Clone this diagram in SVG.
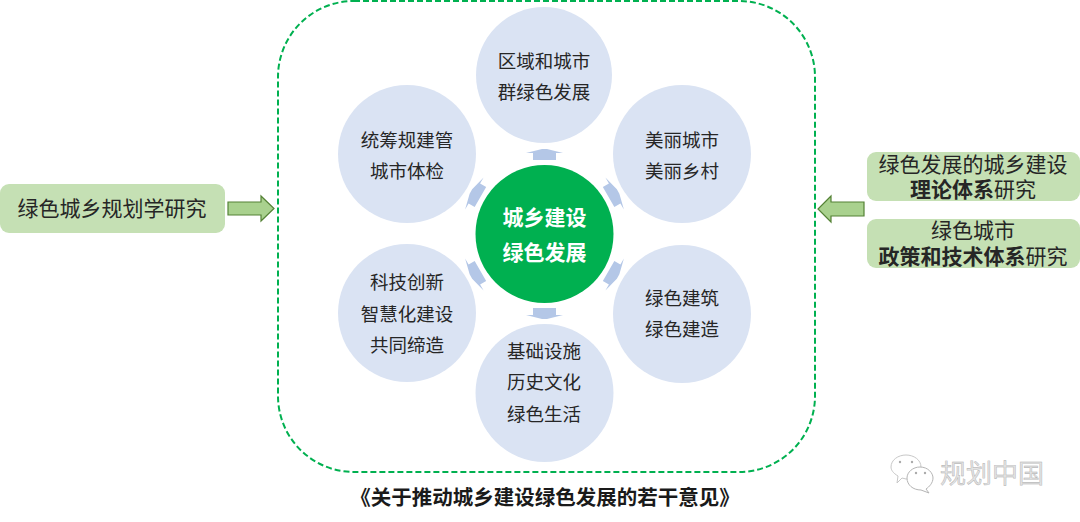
<svg xmlns="http://www.w3.org/2000/svg" width="1080" height="522" viewBox="0 0 1080 522">
<style>
text{font-family:"Liberation Sans","Noto Sans CJK SC",sans-serif;text-anchor:middle;fill:#262626}
.p circle{fill:#dae3f3}
.p text{font-size:18.5px}
.box{fill:#c5e0b4}
.b{font-size:21px}
.s{font-weight:bold}
.arr{fill:#a9d18e;stroke:#548235;stroke-width:1.2}
.blue{fill:#b4c7e7}
</style>
<defs><path id="ba" d="M533 160V153H526L542 149H547L563 153H556V160Z"/></defs>
<rect width="1080" height="522" fill="#fff"/>
<rect x="278" y="1" width="537" height="471" rx="76" fill="none" stroke="#00b050" stroke-width="2" stroke-dasharray="6 3"/>
<g id="connectors">
<use href="#ba" class="blue"/>
<use href="#ba" class="blue" transform="rotate(60 544.500 234)"/>
<use href="#ba" class="blue" transform="rotate(120 544.500 234)"/>
<use href="#ba" class="blue" transform="rotate(180 544.500 234)"/>
<use href="#ba" class="blue" transform="rotate(-120 544.500 234)"/>
<use href="#ba" class="blue" transform="rotate(-60 544.500 234)"/>
<path class="arr" d="M228 202H261V196L274 208.500L261 221V215H228Z"/>
<path class="arr" d="M864 202H831V196L818 209L831 222V216H864Z"/>
</g>
<g id="n-top" class="p"><circle cx="544" cy="75" r="68"/><text x="544" y="68">区域和城市</text><text x="544" y="99">群绿色发展</text></g>
<g id="n-ul" class="p"><circle cx="407" cy="154" r="69"/><text x="407" y="147">统筹规建管</text><text x="407" y="178">城市体检</text></g>
<g id="n-ur" class="p"><circle cx="682" cy="154" r="69"/><text x="682" y="147">美丽城市</text><text x="682" y="178">美丽乡村</text></g>
<g id="n-ll" class="p"><circle cx="407" cy="313" r="69"/><text x="407" y="289">科技创新</text><text x="407" y="321">智慧化建设</text><text x="407" y="352">共同缔造</text></g>
<g id="n-lr" class="p"><circle cx="682" cy="314" r="69"/><text x="682" y="305">绿色建筑</text><text x="682" y="336">绿色建造</text></g>
<g id="n-bottom" class="p"><circle cx="544.500" cy="393" r="69"/><text x="544" y="358">基础设施</text><text x="544" y="389">历史文化</text><text x="544" y="421">绿色生活</text></g>
<g id="n-center"><circle cx="544.500" cy="234" r="69" fill="#00b050"/><text x="544.500" y="225" font-size="21" font-weight="bold" style="fill:#fff">城乡建设</text><text x="544.500" y="260" font-size="21" font-weight="bold" style="fill:#fff">绿色发展</text></g>
<g id="n-left"><rect x="0" y="184" width="225" height="49" rx="9" class="box"/><text x="112" y="216" class="b">绿色城乡规划学研究</text></g>
<g id="n-r1"><rect x="867" y="152" width="213" height="49" rx="9" class="box"/><text x="973" y="172" class="b">绿色发展的城乡建设</text><text x="973" y="197" class="b"><tspan class="s">理论体系</tspan>研究</text></g>
<g id="n-r2"><rect x="867" y="219" width="213" height="49" rx="9" class="box"/><text x="973" y="238" class="b">绿色城市</text><text x="973" y="264" class="b"><tspan class="s">政策和技术体系</tspan>研究</text></g>
<text x="545" y="505" font-size="20.500" font-weight="bold" style="fill:#1a1a1a">《关于推动城乡建设绿色发展的若干意见》</text>
<g id="watermark">
<path d="M906 455C914 455 921 460 921 467C921 474 914 479 906 479L902 478L897 483L898 476C893 473 891 470 891 467C891 460 898 455 906 455Z" fill="#fff" stroke="#c8c8c8"/>
<path d="M920 467C928 467 933 473 933 478C933 483 929 487 926 489L929 493L921 490C913 490 907 485 907 478C907 472 913 467 920 467Z" fill="#fff" stroke="#b5b5b5"/>
<circle cx="900" cy="462" r="1.200" fill="#aaa"/><circle cx="912" cy="462" r="1.200" fill="#aaa"/><circle cx="916" cy="473" r="1.200" fill="#aaa"/><circle cx="925" cy="473" r="1.200" fill="#aaa"/>
<text x="992" y="483" font-size="26" stroke="#aaa" stroke-width="0.400" style="fill:#e4e4e4">规划中国</text>
</g>
</svg>
